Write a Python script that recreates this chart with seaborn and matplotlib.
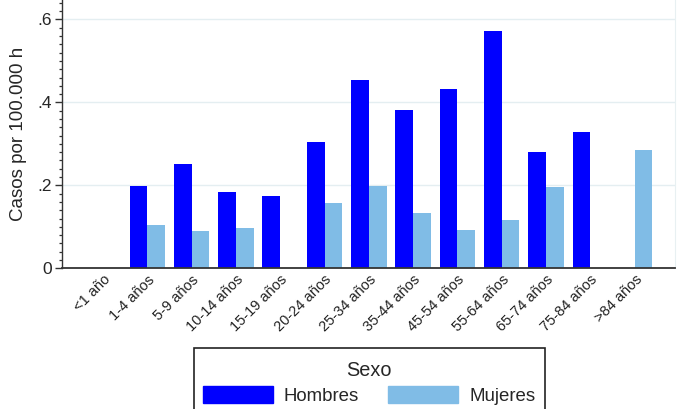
import numpy as np
import pandas as pd
import matplotlib
matplotlib.use("Agg")
import matplotlib.pyplot as plt
from matplotlib.patches import Rectangle
from matplotlib.ticker import MultipleLocator
import seaborn as sns

# -------- datos --------
grupos = ["<1 año", "1-4 años", "5-9 años", "10-14 años", "15-19 años",
          "20-24 años", "25-34 años", "35-44 años", "45-54 años",
          "55-64 años", "65-74 años", "75-84 años", ">84 años"]
hombres = [np.nan, 0.198, 0.252, 0.183, 0.174, 0.304, 0.455, 0.381,
           0.432, 0.573, 0.281, 0.329, np.nan]
mujeres = [np.nan, 0.104, 0.089, 0.096, np.nan, 0.158, 0.198, 0.134,
           0.092, 0.116, 0.195, np.nan, 0.285]
sexos = ["Hombres", "Mujeres"]
colores = ["#0000FF", "#80BCE6"]

df = pd.DataFrame({
    "grupo": grupos * 2,
    "casos": hombres + mujeres,
    "sexo": ["Hombres"] * len(grupos) + ["Mujeres"] * len(grupos),
})

# -------- figura --------
sns.set_style("white")
plt.rcParams["font.family"] = ["Liberation Sans", "DejaVu Sans"]

fig = plt.figure(figsize=(6.77, 4.09), dpi=100)
ax = fig.add_axes([62 / 677, 1 - 268.3 / 409, 613 / 677, 268.3 / 409])

sns.barplot(data=df, x="grupo", y="casos", hue="sexo", order=grupos,
            hue_order=sexos, palette=colores, saturation=1, width=0.8,
            errorbar=None, ax=ax, legend=False, linewidth=0)

ax.set_xlim(-0.925, 12.91)
ax.set_ylim(0, 0.647)
ax.set_yticks([0, 0.2, 0.4, 0.6])
ax.set_yticklabels(["0", ".2", ".4", ".6"], fontsize=12.5)
ax.yaxis.set_minor_locator(MultipleLocator(0.02))
ax.tick_params(axis="y", which="both", left=True)
ax.tick_params(axis="y", which="major", direction="out", length=5,
               width=1, color="#333333", pad=2)
ax.tick_params(axis="y", which="minor", direction="out", length=2.5,
               width=0.9, color="#333333")
ax.tick_params(axis="x", length=0, pad=3)
plt.setp(ax.get_xticklabels(), rotation=45, ha="right",
         rotation_mode="anchor", fontsize=10.5, color="#222222")

for y in [0.2, 0.4, 0.6]:
    ax.axhline(y, color="#E4EEF1", lw=1, zorder=0)

ax.set_xlabel("")
ax.set_ylabel("Casos por 100.000 h", fontsize=13.5, labelpad=8)

ax.spines["top"].set_visible(False)
ax.spines["right"].set_color("#E8F0F2")
ax.spines["left"].set_color("#333333")
ax.spines["bottom"].set_color("#333333")
ax.spines["left"].set_linewidth(1)
ax.spines["bottom"].set_linewidth(1.3)

# -------- leyenda --------
handles = [plt.Rectangle((0, 0), 1, 1, color=c) for c in colores]
leg = fig.legend(handles, sexos, title="Sexo", ncol=2,
                 loc="upper center", bbox_to_anchor=(369 / 677, 1 - 354 / 409),
                 borderaxespad=0, fontsize=13.4, title_fontsize=14.3,
                 frameon=False, handlelength=3.76, handleheight=1.0,
                 handletextpad=0.6, columnspacing=1.56, borderpad=0.4,
                 labelspacing=0.3)
# marco de la leyenda (se corta por abajo como en el original)
fig.patches.append(Rectangle((193.5 / 677, 1 - 415 / 409), 351 / 677, 67 / 409,
                             transform=fig.transFigure, fill=False,
                             edgecolor="#222222", linewidth=1.2))

fig.savefig("out.png", dpi=100)
